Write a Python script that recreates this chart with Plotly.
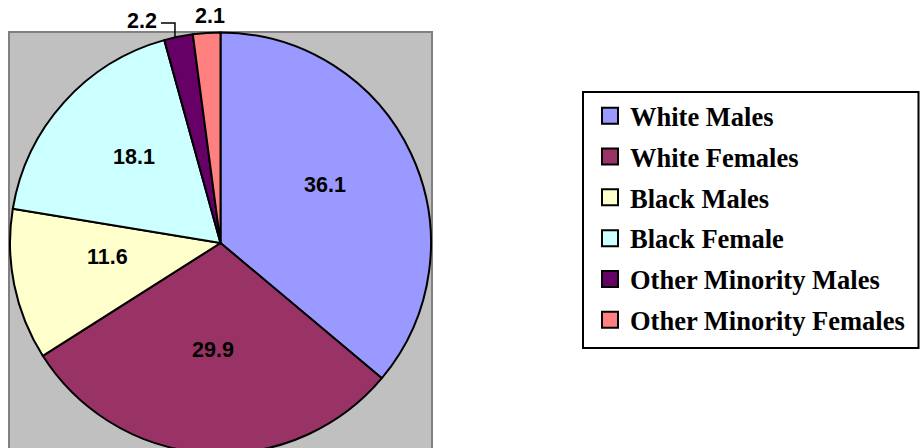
import math
import plotly.graph_objects as go

# Workforce composition by group (percent)
labels = ["White Males", "White Females", "Black Males", "Black Female",
          "Other Minority Males", "Other Minority Females"]
values = [36.1, 29.9, 11.6, 18.1, 2.2, 2.1]
colors = ["#9999FF", "#993366", "#FFFFCC", "#CCFFFF", "#660066", "#FF8080"]
outside = [False, False, False, False, True, True]

W, H = 920, 456
CX, CY, R = 220.5, 243.0, 210.5          # pie centre / radius in px
BOX = (9, 32, 432)                       # grey plot-area box: left, top, right
LABEL_FRAC, LABEL_DY = 0.55, -9          # inside label radius / vertical nudge
NUM_FONT = dict(family="Arial, Liberation Sans, sans-serif", size=21.5,
                color="black", weight="bold")


def px_x(x):
    return x / W


def px_y(y):
    return 1 - y / H


fig = go.Figure()

fig.add_trace(go.Pie(
    labels=labels, values=values, sort=False, direction="clockwise", rotation=0,
    marker=dict(colors=colors, line=dict(color="black", width=2)),
    textinfo="none",
    domain=dict(x=[px_x(CX - R), px_x(CX + R)], y=[px_y(CY + R), px_y(CY - R)]),
    showlegend=False, hoverinfo="label+value",
))

# legend entries
for lab, col in zip(labels, colors):
    fig.add_trace(go.Scatter(
        x=[None], y=[None], mode="markers", name=lab, legendgroup=lab,
        marker=dict(symbol="square", size=16, color=col,
                    line=dict(color="black", width=2)),
    ))

# value labels: inside the wide slices, outside the rim for the thin ones
total = sum(values)
cum = 0.0
annotations = []
shapes = []
for v, o in zip(values, outside):
    mid = (cum + v / 2) / total * 2 * math.pi
    cum += v
    ax = CX + R * math.sin(mid)
    ay = CY - R * math.cos(mid)
    if not o:
        lx = CX + LABEL_FRAC * R * math.sin(mid)
        ly = CY - LABEL_FRAC * R * math.cos(mid) + LABEL_DY
        annotations.append(dict(
            x=px_x(lx), y=px_y(ly), xref="paper", yref="paper",
            xanchor="center", yanchor="middle", showarrow=False,
            text=f"{v:.1f}", font=NUM_FONT))
    elif mid < 2 * math.pi - 0.1:
        # elbow leader line from the rim up and across to the label
        ex = ax - 3.5
        rim_y = CY - math.sqrt(R ** 2 - (ex - CX) ** 2)
        ey = rim_y - 14.5
        tx = ex - 14
        shapes.append(dict(
            type="path", xref="paper", yref="paper",
            path=f"M{px_x(ex)},{px_y(rim_y)} L{px_x(ex)},{px_y(ey)} "
                 f"L{px_x(tx)},{px_y(ey)}",
            line=dict(color="black", width=1.5)))
        annotations.append(dict(
            x=px_x(tx - 2), y=px_y(ey - 2), xref="paper", yref="paper",
            xanchor="right", yanchor="middle", showarrow=False,
            text=f"{v:.1f}", font=NUM_FONT))
    else:
        annotations.append(dict(
            x=px_x(ax + 3), y=px_y(ay - 3), xref="paper", yref="paper",
            xanchor="center", yanchor="bottom", showarrow=False,
            text=f"{v:.1f}", font=NUM_FONT))

# grey plot area and legend frame
shapes.insert(0, dict(
    type="rect", xref="paper", yref="paper", layer="below",
    x0=px_x(BOX[0]), x1=px_x(BOX[2]), y0=-0.1, y1=px_y(BOX[1]),
    fillcolor="#C0C0C0", line=dict(color="#808080", width=2)))
shapes.append(dict(
    type="rect", xref="paper", yref="paper",
    x0=px_x(583), x1=px_x(918.5), y0=px_y(348), y1=px_y(92),
    line=dict(color="black", width=2), fillcolor="rgba(0,0,0,0)"))

fig.update_layout(
    width=W, height=H, margin=dict(l=0, r=0, t=0, b=0),
    paper_bgcolor="white", plot_bgcolor="rgba(0,0,0,0)",
    xaxis=dict(visible=False), yaxis=dict(visible=False),
    shapes=shapes, annotations=annotations,
    legend=dict(x=px_x(590), y=px_y(92), xanchor="left", yanchor="top",
                bgcolor="rgba(0,0,0,0)", borderwidth=0, tracegroupgap=3.35,
                font=dict(family="Times New Roman, Liberation Serif, serif",
                          size=26.5, color="black", weight="bold")),
)

fig.write_html("out.html", post_script=(
    "document.documentElement.style.overflow='hidden';"
    "document.body.style.overflow='hidden';"))
